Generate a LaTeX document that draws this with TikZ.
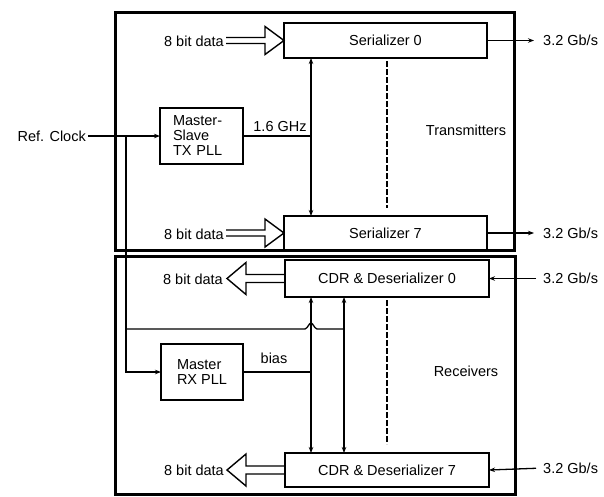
\documentclass[tikz,border=0pt]{standalone}
\usepackage{fontspec}
\setmainfont{Liberation Sans}
\usetikzlibrary{arrows.meta,calc}
\begin{document}
\begin{tikzpicture}[x=1pt,y=-1pt,
  font=\fontsize{14.5}{15}\selectfont,
  blk/.style={draw,line width=1.6pt,inner sep=0pt,outer sep=0pt},
  frame/.style={draw,line width=3pt,inner sep=0pt,outer sep=0pt},
  wire/.style={line width=1.3pt},
  tip/.style={-{Stealth[length=6pt,width=4.5pt]}},
  tips/.style={{Stealth[length=6pt,width=4.5pt]}-{Stealth[length=6pt,width=4.5pt]}},
  hollow/.style={line width=1.4pt,line join=miter},
  lbl/.style={inner sep=0pt},
  dashln/.style={line width=1.4pt,dash pattern=on 6pt off 2pt}]
\useasboundingbox (0,0) rectangle (604,496);
% frames
\node[frame,minimum width=399pt,minimum height=238pt] (tx) at (314.5,131) {};
\node[frame,minimum width=400pt,minimum height=238pt] (rx) at (315,375) {};
% blocks
\node[blk,minimum width=203pt,minimum height=35pt] (ser0) at (385.5,40.5) {Serializer 0};
\node[blk,minimum width=203pt,minimum height=34pt] (ser7) at (385.5,233) {Serializer 7};
\node[blk,minimum width=204pt,minimum height=37pt] (cdr0) at (387,278.5) {CDR \& Deserializer 0};
\node[blk,minimum width=204pt,minimum height=34pt] (cdr7) at (387,470) {CDR \& Deserializer 7};
\node[blk,minimum width=83pt,minimum height=56pt,text width=57pt,align=left] (txpll) at (201.5,136) {Master-\\Slave\\TX PLL};
\node[blk,minimum width=82pt,minimum height=56pt,align=left] (rxpll) at (202,372) {Master\\RX PLL};
% labels
\node[lbl] (tlab) at (466,130) {Transmitters};
\node[lbl] (rlab) at (466,371) {Receivers};
\node[lbl] (ghz) at (280,127) {1.6 GHz};
\node[lbl] (bias) at (274,358) {bias};
\node[lbl,anchor=east] (ref) at (86,136) {Ref. Clock};
\node[lbl,anchor=east] (d0) at (224,41) {8 bit data};
\node[lbl,anchor=east] (d7) at (224,234) {8 bit data};
\node[lbl,anchor=east] (e0) at (223,279) {8 bit data};
\node[lbl,anchor=east] (e7) at (224,470) {8 bit data};
\node[lbl,anchor=west] (o0) at (543,40.5) {3.2 Gb/s};
\node[lbl,anchor=west] (o7) at (543,233) {3.2 Gb/s};
\node[lbl,anchor=west] (i0) at (543,278.5) {3.2 Gb/s};
\node[lbl,anchor=west] (i7) at (543,468) {3.2 Gb/s};
% hollow data arrows
\draw[hollow] (ser0.west) ++(-58,-3) -- ++(39,0) -- ++(0,-11) -- (ser0.west) -- ++(-19,14) -- ++(0,-11) -- ++(-39,0);
\draw[hollow] (ser7.west) ++(-58,-3) -- ++(39,0) -- ++(0,-11) -- (ser7.west) -- ++(-19,14) -- ++(0,-11) -- ++(-39,0);
\draw[hollow] (cdr0.west) ++(0,-4) -- ++(-39,0) -- ++(0,-12) -- ++(-19,16) -- ++(19,16) -- ++(0,-12) -- ++(39,0);
\draw[hollow] (cdr7.west) ++(0,-4) -- ++(-39,0) -- ++(0,-12) -- ++(-19,16) -- ++(19,16) -- ++(0,-12) -- ++(39,0);
% serial I/O
\draw[wire,tip,shorten >=9pt] (ser0.east) -- (o0.west);
\draw[wire,tip,shorten >=9pt] (ser7.east) -- (o7.west);
\draw[wire,tip,shorten <=7pt] (i0.west) -- (cdr0.east);
\draw[wire,tip,shorten <=7pt] (i7.west) -- (cdr7.east);
% clock distribution
\coordinate (vx1) at (311,0);
\coordinate (vx2) at (344,0);
\coordinate (vx3) at (387,0);
\coordinate (j1) at (126,136);
\coordinate (j2) at (126,329);
\draw[wire,tip,shorten <=2pt] (ref.east) -- (txpll.west);
\draw[wire,tip] (j1) |- (rxpll.west);
\draw[wire] (txpll.east) -- (txpll.east -| vx1);
\draw[wire,tips] (ser0.south -| vx1) -- (ser7.north -| vx1);
\draw[wire] (rxpll.east) -- (rxpll.east -| vx1);
\draw[wire,tips] (cdr0.south -| vx1) -- (cdr7.north -| vx1);
\draw[wire,tips] (cdr0.south -| vx2) -- (cdr7.north -| vx2);
\draw[wire] (j2) -- (305,329) .. controls (308,328) and (309,323) .. (311,323) .. controls (313,323) and (314,328) .. (317,329) -- (j2 -| vx2);
% dashed "..." lines
\draw[dashln,shorten <=3pt,shorten >=8pt] (ser0.south -| vx3) -- (ser7.north -| vx3);
\draw[dashln,shorten <=3pt,shorten >=9pt] (cdr0.south -| vx3) -- (cdr7.north -| vx3);
\end{tikzpicture}
\end{document}
